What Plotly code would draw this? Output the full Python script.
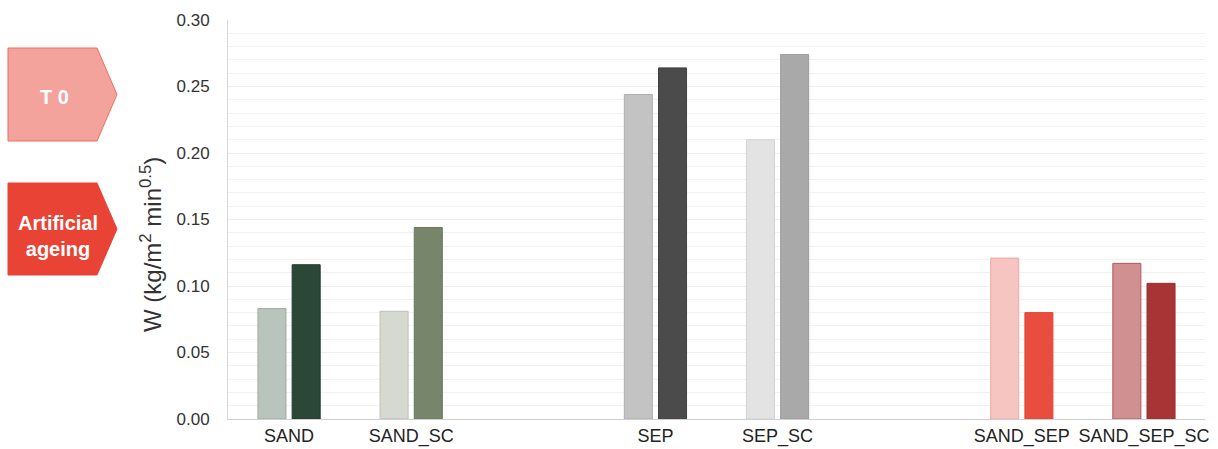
import plotly.graph_objects as go

x_pos = [0, 1, 3, 4, 6, 7]
labels = ["SAND", "SAND_SC", "SEP", "SEP_SC", "SAND_SEP", "SAND_SEP_SC"]
t0_values = [0.083, 0.081, 0.244, 0.210, 0.121, 0.117]
aged_values = [0.116, 0.144, 0.264, 0.274, 0.080, 0.102]
t0_colors = ["#b9c4bd", "#d6d9d0", "#c3c3c3", "#e3e3e3", "#f6c4c1", "#d09091"]
t0_lines = ["#9eaaa2", "#bcc1b5", "#adadad", "#d2d2d2", "#f0a8a3", "#b9545a"]
aged_colors = ["#2b4736", "#77856a", "#4b4b4b", "#a9a9a9", "#e84d3e", "#a83436"]
aged_lines = ["#233b2c", "#68765c", "#404040", "#9c9c9c", "#e0493a", "#98302f"]
y_ticks = [0.00, 0.05, 0.10, 0.15, 0.20, 0.25, 0.30]

fig = go.Figure()
fig.add_trace(go.Bar(x=x_pos, y=t0_values, name="T 0",
                     marker=dict(color=t0_colors, line=dict(color=t0_lines, width=1))))
fig.add_trace(go.Bar(x=x_pos, y=aged_values, name="Artificial ageing",
                     marker=dict(color=aged_colors, line=dict(color=aged_lines, width=1))))

W, H = 1218, 449
L, R, T, B = 228, 13, 20, 30
pw, ph = W - L - R, H - T - B


def px(x):
    return (x - L) / pw


def py(y):
    return 1 - (y - T) / ph


def arrow(x0, x1, xt, y0, y1):
    ym = (y0 + y1) / 2
    return (f"M {px(x0)} {py(y0)} L {px(x1)} {py(y0)} L {px(xt)} {py(ym)} "
            f"L {px(x1)} {py(y1)} L {px(x0)} {py(y1)} Z")


fig.add_shape(type="path", xref="paper", yref="paper", path=arrow(8, 97, 117, 48, 141),
              fillcolor="#f4a39c", line=dict(color="#ee6f63", width=1))
fig.add_shape(type="path", xref="paper", yref="paper", path=arrow(8, 97, 117, 183, 275),
              fillcolor="#e84335", line=dict(color="#e84335", width=1))
fig.add_annotation(xref="paper", yref="paper", x=px(54), y=py(97), text="<b>T 0</b>",
                   xanchor="center", yanchor="middle",
                   showarrow=False, font=dict(color="white", size=20))
fig.add_annotation(xref="paper", yref="paper", x=px(57.5), y=py(236),
                   text="<b>Artificial<br>ageing</b>", xanchor="center", yanchor="middle",
                   showarrow=False, font=dict(color="white", size=20))
fig.add_annotation(xref="paper", yref="paper", x=px(151), y=py(245),
                   text="W (kg/m<sup>2</sup> min<sup>0.5</sup>)", textangle=-90,
                   xanchor="center", yanchor="middle", showarrow=False,
                   font=dict(size=24, color="#333333"))

fig.update_layout(
    width=W, height=H,
    margin=dict(l=L, r=R, t=T, b=B, autoexpand=False),
    paper_bgcolor="white", plot_bgcolor="white",
    barmode="group", bargap=0.44, bargroupgap=0.18,
    showlegend=False,
    font=dict(family="Liberation Sans, Arial, sans-serif", color="#333333", size=17),
)
fig.update_xaxes(
    range=[-0.5, 7.5], tickvals=x_pos, ticktext=labels, automargin=False,
    showgrid=False, showline=True, linecolor="#cfcfcf", linewidth=1,
    ticks="", tickfont=dict(size=18, color="#222222"),
)
fig.update_yaxes(
    range=[0, 0.30], tickvals=y_ticks, tickformat=".2f", automargin=False,
    showgrid=True, gridcolor="#eeeeee", gridwidth=1,
    minor=dict(dtick=0.01, showgrid=True, gridcolor="#f1f1f1", gridwidth=1),
    showline=True, linecolor="#d6d6d6", linewidth=1,
    ticks="", ticklabelstandoff=14, tickfont=dict(size=17, color="#333333"),
    zeroline=False,
)

fig.write_html("out.html", config={"displayModeBar": False},
               post_script="document.body.style.margin='0px';")
